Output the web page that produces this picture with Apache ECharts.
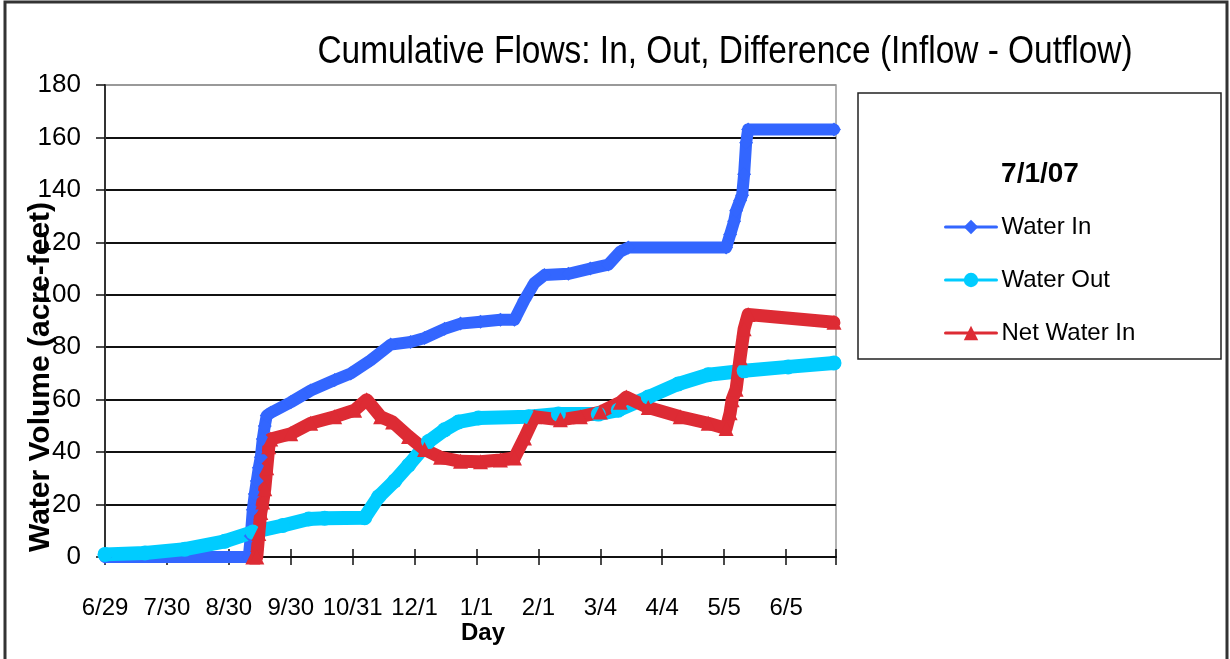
<!DOCTYPE html>
<html>
<head>
<meta charset="utf-8">
<script src="https://cdn.jsdelivr.net/npm/echarts@6/dist/echarts.min.js"></script>
<style>
	html, body { margin: 0; padding: 0; background: #fff; }
	#chart { width: 1230px; height: 659px; }
</style>
</head>
<body>
<div id="chart"></div>
<script>
	// x is the day number counted from 6/29, ticks every 31 days
	var tickLabels = ['6/29', '7/30', '8/30', '9/30', '10/31', '12/1', '1/1', '2/1', '3/4', '4/4', '5/5', '6/5']

	var waterIn = [
		[0, 0], [72, 0], [73, 8], [74, 18], [75, 24], [76, 29], [77, 34], [78, 38], [79, 45], [80, 50], [81, 54],
		[83, 55], [93, 59], [103, 63.5], [115, 67.5], [123, 70], [133, 75], [143, 81], [153, 82], [160, 83.5],
		[170, 87], [178, 89], [188, 89.7], [198, 90.5], [205, 90.5], [210, 98], [215, 104.5], [220, 107.5],
		[232, 108], [243, 110], [252, 111.5], [258, 116.5], [262, 118], [311, 118], [313, 123], [315, 128],
		[316, 132], [318, 136], [319, 138], [320, 146], [321, 158], [322, 163], [365, 163]
	]

	var waterOut = [
		[0, 1], [20, 1.5], [40, 3], [60, 6], [74, 9.5], [89, 12], [102, 14.5], [110, 14.8], [130, 15],
		[137, 23], [145, 29], [152, 35], [162, 44], [170, 48.5], [177, 51.5], [187, 53], [212, 53.5],
		[227, 54.5], [247, 54.5], [257, 56], [272, 61], [287, 66], [302, 69.5], [320, 71], [342, 72.5], [365, 74]
	]

	var netWaterIn = [
		[74, 0], [76, 0], [77, 9], [78, 17], [79, 21], [80, 26], [81, 34], [82, 42], [83, 45], [93, 47],
		[103, 51], [115, 53.5], [125, 56], [131, 60], [138, 53.5], [144, 51.5], [152, 46], [160, 41],
		[168, 38], [178, 36.5], [188, 36.3], [198, 37], [205, 37.8], [210, 45.4], [215, 53.5], [228, 52.3],
		[238, 53.5], [248, 55.3], [258, 59], [261, 61], [272, 57], [288, 53.5], [302, 51], [311, 49],
		[313, 55], [314, 60], [316, 64], [318, 76], [320, 87], [322, 92.5], [365, 89.5]
	]

	var chart = echarts.init(document.getElementById('chart'))
	var font = 'Liberation Sans, Arial, sans-serif'

	var option = {
		animation: false,
		textStyle: { fontFamily: font },
		grid: {
			left: 105,
			right: 394,
			top: 85,
			bottom: 102,
			show: true,
			borderColor: '#999',
			borderWidth: 1.5
		},
		graphic: [
			{ type: 'rect', shape: { x: 5, y: 2, width: 1222, height: 720 }, style: { fill: 'none', stroke: '#333', lineWidth: 3 }, silent: true },
			{ type: 'text', x: 725, y: 53, scaleX: 0.88, style: { text: 'Cumulative Flows: In, Out, Difference (Inflow - Outflow)', font: '38px ' + font, fill: '#000', textAlign: 'center', textVerticalAlign: 'middle' } },
			{ type: 'text', x: 483, y: 633, style: { text: 'Day', font: 'bold 24px ' + font, fill: '#000', textAlign: 'center', textVerticalAlign: 'middle' } },
			{ type: 'text', x: 41, y: 377, rotation: Math.PI / 2, style: { text: 'Water Volume (acre-feet)', font: 'bold 30px ' + font, fill: '#000', textAlign: 'center', textVerticalAlign: 'middle' } },
			{ type: 'rect', shape: { x: 858, y: 93, width: 363, height: 266 }, style: { fill: '#fff', stroke: '#222', lineWidth: 1.5 }, z: 1 },
			{ type: 'text', x: 1040, y: 174, style: { text: '7/1/07', font: 'bold 28px ' + font, fill: '#000', textAlign: 'center', textVerticalAlign: 'middle' }, z: 2 }
		],
		legend: {
			orient: 'vertical',
			left: 944,
			top: 215,
			itemWidth: 51,
			itemHeight: 18,
			itemGap: 29,
			padding: 0,
			lineStyle: { width: 3 },
			textStyle: { fontSize: 24, color: '#000' },
			data: ['Water In', 'Water Out', 'Net Water In']
		},
		xAxis: [{
			type: 'value',
			min: 0,
			max: 366,
			interval: 31,
			axisLine: { lineStyle: { color: '#111', width: 2 } },
			axisTick: { length: 8, lineStyle: { color: '#111', width: 1.5 } },
			axisLabel: {
				color: '#000',
				fontSize: 24,
				margin: 39,
				formatter: function (v) {
					return v % 31 === 0 ? (tickLabels[v / 31] || '') : ''
				}
			},
			splitLine: { show: false }
		}, {
			type: 'value',
			position: 'bottom',
			min: 0,
			max: 366,
			interval: 31,
			axisLine: { show: false },
			axisTick: { inside: true, length: 8, lineStyle: { color: '#111', width: 1.5 } },
			axisLabel: { show: false },
			splitLine: { show: false }
		}],
		yAxis: {
			type: 'value',
			min: 0,
			max: 180,
			interval: 20,
			axisLine: { show: true, lineStyle: { color: '#333', width: 2 } },
			axisTick: { show: true, length: 9, lineStyle: { color: '#111', width: 1.5 } },
			axisLabel: { color: '#000', fontSize: 26, margin: 24 },
			splitLine: {
				lineStyle: {
					color: ['#111', '#111', '#111', '#111', '#111', '#111', '#111', '#111', '#111', '#999'],
					width: 1.8
				}
			}
		},
		series: [{
			name: 'Water In',
			type: 'line',
			data: waterIn,
			symbol: 'diamond',
			symbolSize: 14,
			color: '#3366ff',
			lineStyle: { width: 12, cap: 'round', join: 'round' }
		}, {
			name: 'Water Out',
			type: 'line',
			data: waterOut,
			symbol: 'circle',
			symbolSize: 15,
			color: '#00ccff',
			lineStyle: { width: 14, cap: 'round', join: 'round' }
		}, {
			name: 'Net Water In',
			type: 'line',
			data: netWaterIn,
			symbol: 'triangle',
			symbolSize: 15,
			color: '#dd2b34',
			lineStyle: { width: 13, cap: 'round', join: 'round' }
		}]
	}

	chart.setOption(option)
</script>
</body>
</html>
